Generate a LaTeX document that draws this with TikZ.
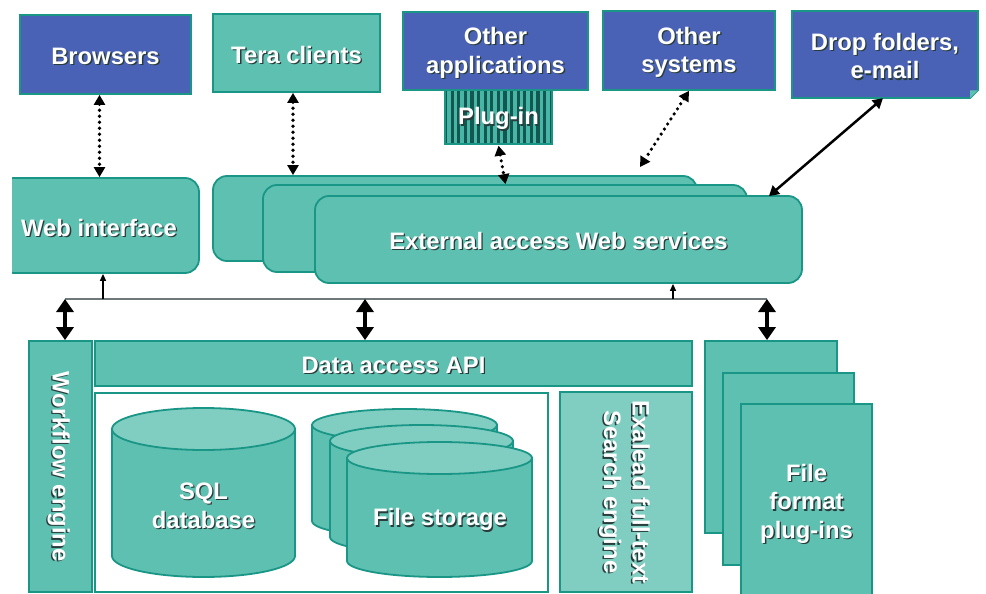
\documentclass[tikz,border=0pt]{standalone}
\usepackage{fontspec}
\setmainfont{Liberation Sans}
\usetikzlibrary{arrows.meta,patterns.meta,calc}

\definecolor{tealfill}{RGB}{94,192,176}
\definecolor{tealline}{RGB}{26,150,135}
\definecolor{lightteal}{RGB}{128,206,193}
\definecolor{bluefill}{RGB}{74,98,181}
\definecolor{plugdark}{RGB}{18,88,80}
\definecolor{plugstripe}{RGB}{72,182,166}
\definecolor{shadowc}{RGB}{40,60,60}
\definecolor{busgray}{RGB}{110,120,120}

% white label with a soft dark drop shadow, set a little low in its box
\newcommand\shd[1]{\raisebox{-2.3pt}[\height][\depth]{\makebox[0pt][l]{\kern1.3pt\raisebox{-1.3pt}{\textcolor{shadowc}{#1}}}#1}}

% upright cylinder: left x, right x, top centre y, bottom centre y, half height of the ends
\newcommand\drawcyl[5]{%
  \pgfmathsetmacro\cylrx{(#2-#1)/2}%
  \draw[cylbody] (#1,#3) -- (#1,#4)
    arc[start angle=180,end angle=360,x radius=\cylrx pt,y radius=#5pt] -- (#2,#3) -- cycle;
  \draw[cyltop] ({(#1+#2)/2},#3) ellipse[x radius=\cylrx pt,y radius=#5pt];}

\begin{document}
\begin{tikzpicture}[x=1pt,y=-1pt,
  every node/.style={font=\fontsize{23.8}{28.5}\selectfont\bfseries, text=white,
    align=center, inner sep=0pt},
  box/.style={draw=tealline, line width=1.8pt, fill=tealfill},
  bluebox/.style={box, fill=bluefill},
  roundbox/.style={box, rounded corners=14pt},
  cylbody/.style={draw=tealline, line width=1.8pt, fill=tealfill},
  cyltop/.style={draw=tealline, line width=1.8pt, fill=lightteal},
  dotarrow/.style={line width=3.6pt, line cap=round, dash pattern=on 0pt off 6pt,
    {Triangle[width=11pt,length=10pt]}-{Triangle[width=11pt,length=10pt]}},
  solidarrow/.style={line width=2.5pt,
    {Triangle[width=11pt,length=10pt]}-{Triangle[width=11pt,length=10pt]}},
  busarrow/.style={line width=4.5pt,
    {Triangle[width=17pt,length=13pt]}-{Triangle[width=17pt,length=13pt]}},
  uparrow/.style={line width=1.3pt, -{Triangle[width=6pt,length=7pt]}},
  busline/.style={draw=busgray, line width=1.2pt}]

\useasboundingbox (0,0) rectangle (986,594);

% ---------- client side ----------
\node[bluebox, minimum width=171pt, minimum height=79pt] (browsers) at (105.5,54.5) {\shd{Browsers}};
\node[box, minimum width=167pt, minimum height=78pt] (tera) at (296.5,53) {\shd{Tera clients}};
\node[draw=tealline, line width=1.5pt,
      preaction={fill=plugdark},
      pattern={Lines[angle=90,distance=6.6pt,line width=3.4pt]}, pattern color=plugstripe,
      minimum width=107pt, minimum height=54pt] (plugin) at (498.5,117) {\shd{Plug-in}};
\node[bluebox, minimum width=185pt, minimum height=78pt] (otherapps) at (495.5,51) {\shd{Other}\\\shd{applications}};
\node[bluebox, minimum width=172pt, minimum height=79pt] (othersys) at (689,50.5) {\shd{Other}\\\shd{systems}};

% drop folder card with a turned-down corner
\draw[bluebox] (792,11) -- (978,11) -- (978,90) -- (970,98) -- (792,98) -- cycle;
\fill[tealfill] (970,90.5) -- (977.5,90.5) -- (970,98) -- cycle;
\node[minimum width=186pt, minimum height=87pt] (drop) at (885,54.5) {\shd{Drop folders,}\\\shd{e-mail}};

% ---------- access layer ----------
\begin{scope}
  \clip (12,0) rectangle (986,594);
  \node[roundbox, minimum width=199pt, minimum height=95pt] (web) at (99.5,225.5) {};
\end{scope}
\node at (99,226) {\shd{Web interface}};

\node[roundbox, minimum width=484pt, minimum height=85pt] (ext1) at (455,218.5) {};
\node[roundbox, minimum width=484pt, minimum height=87pt] (ext2) at (505,228.5) {};
\node[roundbox, minimum width=487pt, minimum height=87pt] (ext) at (558.5,239.5) {\shd{External access Web services}};

% ---------- links to the clients ----------
\draw[dotarrow] (browsers.south -| web.north) -- (web.north);
\draw[dotarrow] ([xshift=-3.5pt]tera.south) -- ([xshift=-3.5pt]tera.south |- ext1.north);
\draw[dotarrow] (plugin.south) -- ([xshift=7pt]plugin.south |- ext2.north);
\coordinate (sysend) at (640,167);
\draw[dotarrow] (othersys.south) -- (sysend);
\draw[solidarrow] ([xshift=-2pt]drop.south) -- ([xshift=-34pt,yshift=-1pt]ext.north east);

% ---------- internal bus ----------
\coordinate (busL) at (65,299);
\coordinate (busM) at (365,299);
\coordinate (busR) at (767,299);
\coordinate (busW) at (103,299);
\coordinate (busE) at (673,299);
\draw[busline] (busL) -- (busR);
\draw[uparrow] (busW) -- (busW |- web.south);
\draw[uparrow] (busE) -- (busE |- ext.south);

% ---------- server side ----------
\node[box, minimum width=63pt, minimum height=251pt,
      label={[rotate=-90]center:\shd{Workflow engine}}] (wf) at (60.5,466.5) {};
\node[box, minimum width=597pt, minimum height=45pt] (api) at (393.5,363.5) {\shd{Data access API}};
\node[box, fill=white, minimum width=453pt, minimum height=199pt] (store) at (321.5,492.5) {};
\node[box, fill=lightteal, minimum width=132pt, minimum height=200pt,
      label={[rotate=-90,align=center]center:\shd{Exalead full-text}\\\shd{Search engine}}] (exalead) at (626,492) {};

\node[box, minimum width=132pt, minimum height=192pt] (fmt1) at (771,437) {};
\node[box, minimum width=131pt, minimum height=192pt] (fmt2) at (788.5,469) {};
\node[box, minimum width=131pt, minimum height=196pt] (fmt) at (806.5,502) {\shd{File}\\\shd{format}\\\shd{plug-ins}};

% storage cylinders
\drawcyl{112}{295}{429}{556}{21}
\node (sql) at (203.5,504) {\shd{SQL}\\\shd{database}};
\drawcyl{312}{497}{425}{521}{16}
\drawcyl{330}{513}{441}{537}{16}
\drawcyl{347}{532}{458}{561}{16}
\node (files) at (440,518) {\shd{File storage}};

% bus connections to the server blocks
\draw[busarrow] (busL) -- (busL |- wf.north);
\draw[busarrow] (busM) -- (busM |- api.north);
\draw[busarrow] (busR) -- (busR |- fmt1.north);

\end{tikzpicture}
\end{document}
